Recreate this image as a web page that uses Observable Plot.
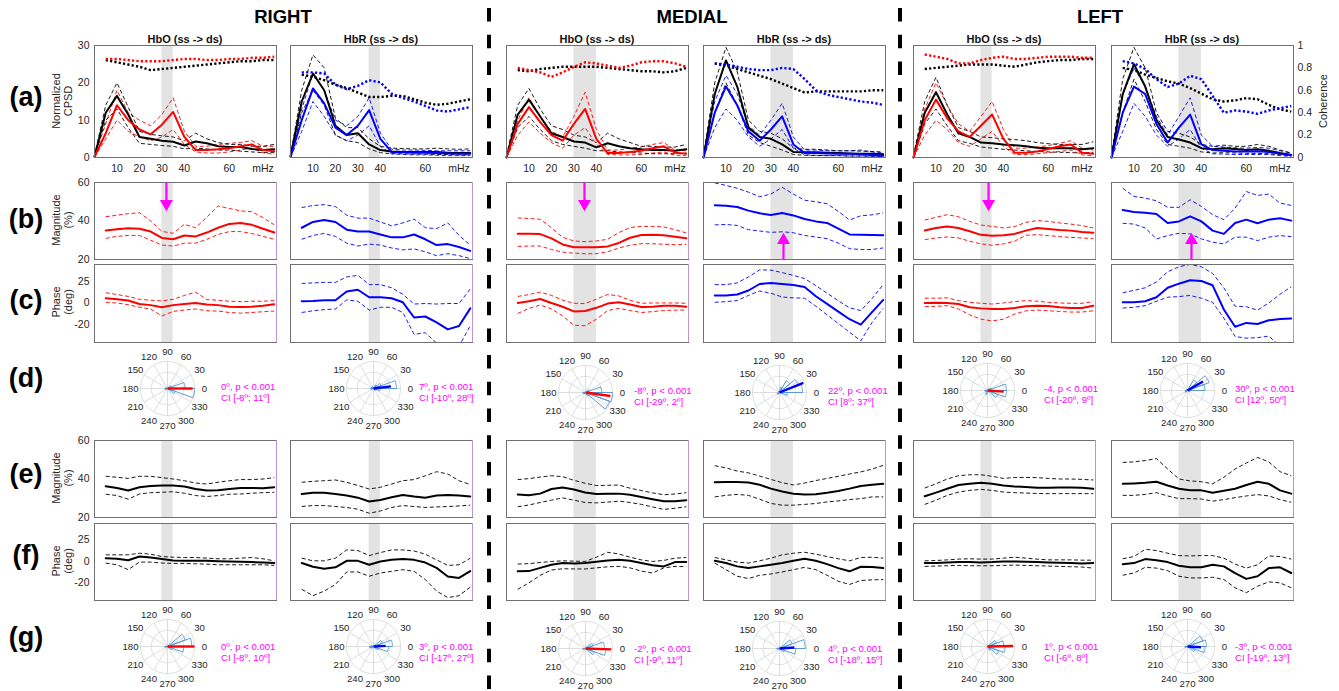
<!DOCTYPE html>
<html><head><meta charset="utf-8">
<script src="https://cdn.jsdelivr.net/npm/d3@7"></script>
<script src="https://cdn.jsdelivr.net/npm/@observablehq/plot@0.6"></script>
<style>
html,body{margin:0;padding:0;background:#fff;}
#root{position:relative;width:1339px;height:691px;overflow:hidden;background:#fff;}
</style></head>
<body><div id="root"></div>
<script>
// ---------------- DATA ----------------
const freqA = [0,5,10,15,20,25,30,35,40,45,50,55,60,65,70,75,80];
const freqB = [5,10,15,20,25,30,35,40,45,50,55,60,65,70,75,80];
const regions = ["RIGHT","MEDIAL","LEFT"];
const chromo = ["HbO","HbR","HbO","HbR","HbO","HbR"];
const rowLabels = ["(a)","(b)","(c)","(d)","(e)","(f)","(g)"];
const bands = [[30,35],[35,40],[30,40],[30,40],[30,35],[30,40]];
const xTicks = [10,20,30,40,60,75];
const xTickLabels = ["10","20","30","40","60","mHz"];
const cpsdTicks = [0,10,20,30];
const magTicks = [20,40,60];
const phaseTicks = [20,0,-20];
const phaseTickLabels = ["25","0","-20"];
const cohTicks = [0,0.2,0.4,0.6,0.8,1];
const cohTickLabels = ["0","0.2","0.4","0.6","0.8","1"];
const polarTicks = [0,30,60,90,120,150,180,210,240,270,300,330];
const polarRings = [0.6,1];

// Row (a): normalized CPSD (coloured = chromophore, K = black), u/l = CI bounds; coherence 0-1
const aC1=[0.2,6.5,14,10,7.5,6.2,8.8,12.2,5.5,2,2,2.2,2.5,3,3.5,2,1.7];
const aCu1=[0.5,9,18,12,10,8.5,11.5,16,7,3,3,3.5,3.8,4,4.5,3,3];
const aCl1=[0,5,10,7,5.5,4.5,5.5,7.5,3.5,1.5,1.2,1.2,1.5,2,2.5,1.3,0.8];
const aK1=[0.3,12,16.5,11.5,5.5,5,4.5,4.2,3.2,4.3,3.8,3,2.8,2.8,2.3,2,2.2];
const aKu1=[0.5,14,20,13.5,7,6.2,5.8,5.5,4.5,6.5,5,4,3.5,3.5,3,3,3.5];
const aKl1=[0,10,13,8,3.8,3.5,3.2,3,2.3,2.5,2.3,2,2,1.7,1.5,1.3,1.3];
const cohC1=[0.88,0.88,0.87,0.86,0.86,0.86,0.87,0.88,0.88,0.87,0.87,0.88,0.88,0.89,0.89,0.9];
const cohK1=[0.87,0.85,0.83,0.81,0.78,0.79,0.8,0.81,0.82,0.83,0.84,0.85,0.86,0.86,0.87,0.87];

const aC2=[0.2,10,18.5,14.5,8,6,8.5,12.7,5,1.5,1.4,1.3,1.3,1.2,1.1,1,1];
const aCu2=[0.5,13,22.5,18,10,8.5,11,16,6.5,2.2,2,2,1.9,1.8,1.8,1.8,1.8];
const aCl2=[0,7,15,11,6,4.5,6,8.5,3,1,0.8,0.7,0.7,0.6,0.5,0.5,0.5];
const aK2=[0.3,15,22.5,18,8.5,6,6.5,3.5,2,1.6,1.5,1.5,1.5,1.5,1.3,1.2,1.2];
const aKu2=[0.5,18,27.5,24,10.5,8,8,5,3,2.5,2.4,2.3,2.3,2.5,2.3,2.2,2.3];
const aKl2=[0,12,18,14,6,4.5,4,2.3,1.3,1,1,0.9,0.9,0.8,0.8,0.7,0.7];
const cohC2=[0.76,0.76,0.75,0.65,0.61,0.64,0.69,0.67,0.57,0.53,0.5,0.46,0.42,0.41,0.43,0.45];
const cohK2=[0.74,0.72,0.69,0.65,0.62,0.58,0.54,0.54,0.55,0.55,0.52,0.49,0.47,0.48,0.5,0.52];

const aC3=[0,9,13.5,9.5,6,4.5,9,13,5,1.2,1.2,1.5,1.8,2.5,3,1.3,1];
const aCu3=[0.5,10,16,11,7,5.5,11,17.5,7.5,2,2,2.5,2.8,3.5,4,2,1.8];
const aCl3=[0,6,9.5,6.5,4,2.5,6,8,3.5,0.8,0.7,0.7,0.8,1.2,1.5,0.6,0.5];
const aK3=[0,11.5,15.5,11,6.5,5.5,4.3,4,2.7,3.8,3,2.5,2.2,2,2,1.8,2.2];
const aKu3=[0.5,14,18.5,13,8.5,7.5,6,5.5,4,6.5,5,4,3,3,2.8,2.8,3.5];
const aKl3=[0,8,11,7.5,4.5,3.5,3,2.5,1.8,1.8,1.5,1.3,1.2,1,1,1,1.2];
const cohC3=[0.8,0.78,0.76,0.72,0.76,0.81,0.85,0.84,0.82,0.8,0.82,0.85,0.86,0.86,0.84,0.81];
const cohK3=[0.78,0.77,0.79,0.8,0.81,0.81,0.81,0.81,0.8,0.79,0.78,0.77,0.77,0.76,0.77,0.8];

const aC4=[0,12,19,14,7,4.5,7.5,11,3.5,1.2,1.2,1.1,1,1,0.9,0.7,0.5];
const aCu4=[0.5,15,22,17,8.5,6,10,14.5,5.5,2,2,1.8,1.8,1.8,2,1.5,1.2];
const aCl4=[0,8,13,10,5.5,3,5,7.5,2.5,0.7,0.6,0.5,0.5,0.4,0.4,0.3,0.3];
const aK4=[0,17,26,19,8,5.5,5,3.5,1.5,1.4,1.4,1.3,1.2,1.1,1,1,0.9];
const aKu4=[0.5,20,29.5,23,10,7,6.5,5,2.5,2.2,2.2,2,1.8,1.8,1.7,1.6,1.5];
const aKl4=[0,12,20,14,6,4,3,2,0.8,0.6,0.5,0.5,0.5,0.4,0.4,0.4,0.4];
const cohC4=[0.84,0.83,0.81,0.79,0.78,0.78,0.8,0.79,0.7,0.6,0.56,0.54,0.52,0.5,0.49,0.47];
const cohK4=[0.84,0.82,0.79,0.76,0.73,0.7,0.66,0.62,0.58,0.59,0.59,0.59,0.59,0.59,0.6,0.6];

const aC5=[0,10,15.5,10.5,7,5.5,8.5,11.5,5,1.3,1.3,1.6,2.3,3,3.5,1.3,1];
const aCu5=[0.5,13,20,14,9,7,11,15,7.5,2.5,2.5,2.8,3.2,3.8,4.5,2.5,2];
const aCl5=[0,6,10,7.5,4,3,5,7,3,0.8,0.8,1,1.3,1.6,2,0.7,0.5];
const aK5=[0,12,17.5,11.5,6.5,5.5,4,3.8,3.5,3.3,3,2.6,2.5,2.5,2.5,2.2,2.5];
const aKu5=[0.5,15,21.5,14,8,7,5.5,5.3,5,4.8,4.5,4,3.7,3.5,3.5,3.5,4.2];
const aKl5=[0,9,13,8.5,4.5,3.8,2.8,2.5,2.2,2,1.8,1.6,1.5,1.4,1.3,1.2,1.4];
const cohC5=[0.92,0.9,0.88,0.84,0.84,0.87,0.89,0.9,0.88,0.88,0.89,0.9,0.9,0.9,0.89,0.89];
const cohK5=[0.79,0.8,0.81,0.82,0.83,0.83,0.83,0.82,0.81,0.83,0.85,0.86,0.87,0.87,0.88,0.88];

const aC6=[0,12,19,17,9,4,8,11.5,3.5,2,1.8,1.6,1.6,1.7,1.5,1,0.7];
const aCu6=[0.5,17,24,19,11,6,11,16,6,3,2.8,2.6,2.5,2.7,2.5,1.8,1.2];
const aCl6=[0,7,14.5,11,6,3,5,7.5,2.5,1,0.9,0.8,0.8,0.8,0.8,0.5,0.3];
const aK6=[0,17,25,19,10,5.5,4.8,4,2.5,2.2,2.5,2.3,2,2.2,1.8,1.2,0.7];
const aKu6=[0.5,21,29.5,24,12,7,6.5,5.5,3.5,3,3.3,3,3,3.5,3,2,1.2];
const aKl6=[0,12,21,15,7.5,3.5,3,2.5,1.5,1.2,1.3,1.2,1.1,1.1,1,0.8,0.4];
const cohC6=[0.86,0.84,0.79,0.7,0.63,0.66,0.73,0.7,0.55,0.4,0.42,0.41,0.39,0.42,0.44,0.46];
const cohK6=[0.8,0.78,0.74,0.71,0.68,0.66,0.62,0.57,0.52,0.5,0.51,0.53,0.52,0.47,0.43,0.41];

// Rows (b)/(c): coloured magnitude (%) and phase (deg) with CI bounds
const b1=[35.1,35.7,36.2,36,34.5,31.2,30.5,32.5,32,34,36.5,38.5,39,38,36,34];
const bu1=[42.2,43,43.8,44.3,40,34.6,33.6,38.3,36.5,42,47.8,46.5,45.3,44.8,41.8,38];
const bl1=[31,32,32.5,32.5,30,27.5,27,28.5,28.5,30.5,33,34.5,34.5,33.5,32,30.5];
const c1=[4.4,3.5,2.2,-1,-2,-4,-2,-1,0,-1.5,-2,-3.4,-3.8,-3.4,-2.5,-1.2];
const cu1=[9.4,7.8,6,3.4,2.5,1.9,3.4,6.9,10,3.1,2.5,1.6,1.2,1.6,1.6,2.2];
const cl1=[0.6,0,-1.6,-4,-5.6,-12,-7.8,-6.5,-5.6,-7.2,-7.5,-8.8,-9.4,-8.8,-8.1,-7.5];

const b2=[36.5,39.5,40.5,39.5,35.5,34.5,34.5,33,31.5,31.5,33,30.5,27.5,28,26.5,24.5];
const bu2=[47,48,48.5,47.5,43,41.5,41.5,39.5,37.5,39,41,36.5,36,39,32.5,27.5];
const bl2=[30.5,32.5,33.5,32,28.5,27,28,27.5,26,25,25.5,24,22,23,22,20.5];
const c2=[1.6,1.9,2.5,2.5,10.6,12.2,5.3,5.3,4.4,0.6,-13.4,-12.5,-18,-24.4,-21.2,-5];
const cu2=[18,18.5,19,19,24,25.5,17,17,14,8,-1,-0.5,-1,-0.5,-0.5,13];
const cl2=[-8.8,-7.2,-6.2,-5.6,2.8,1.6,-6.6,-4,-4,-8.8,-29,-27.5,-37,-40,-40,-21];

const b3=[33.4,33.4,33.2,31,27.8,26.4,26.4,26.4,26.8,28.6,31.3,32.7,32.9,32.6,31.8,31];
const bu3=[41.6,41.3,40.9,36.5,31.5,29.6,29.3,29.6,30.5,34,36.6,37.2,37.2,36.9,35.5,33.8];
const bl3=[26.8,27,27,25.2,23.8,23.3,23,23,24,26,27.4,28.2,28.2,27.9,27.7,27.8];
const c3=[0,1.5,3.7,0,-3.5,-7.8,-7.4,-4.5,-0.6,0.6,-1.5,-3.8,-3.4,-2.5,-2.5,-3.4];
const cu3=[6,7.8,10,7,2.5,-0.3,-0.6,3.5,7.8,6.5,2.5,-0.3,0,0,0,-0.3];
const cl3=[-9.7,-5,-1.9,-5.5,-12,-20.6,-21,-15,-7,-5,-7,-8.8,-8,-7,-6.6,-6.6];

const b4=[48.2,47.9,47.3,45.4,44,43.1,44.2,42.9,41,39.8,39,36,33,32.9,32.7,32.6];
const bu4=[59.8,58.5,57,55,52.6,54,57.5,54,50.8,50,49,45,40.5,42.7,43.2,44.2];
const bl4=[38,38.2,37.7,35.5,34.8,34.1,34.4,33.9,32.5,31.7,30.8,28.5,25.6,25.2,25.2,26];
const c4=[6.9,6.9,7.8,11.5,17.5,18.4,17.5,16.5,14.7,6.2,-0.9,-8,-15,-20,-8.5,2.8];
const cu4=[16.9,16.9,18.5,24,30.6,30.3,28,25.5,22.5,16,9,2,-4.5,-7,4,17];
const cl4=[0.6,1.2,2.2,7,11,9,5.5,4.7,4.4,-3,-11,-19,-27,-35,-18,-5];

const b5=[35.1,36.4,37.2,36.4,34.7,32.8,32.4,32.6,33.3,35,36.4,35.9,35.3,35,34.3,33.9];
const bu5=[40.5,41.9,43.3,42.2,39.8,37.9,37.2,36.4,37.1,39.3,40.2,39.8,39,38.4,37.6,36.4];
const bl5=[30.3,31.2,31.7,31.2,29.5,28.1,27.4,28.1,29.5,32.6,32.9,32.4,31.9,31.5,31.2,30.8];
const c5=[0,0.3,0,-1,-4,-5,-5.6,-5.6,-4.7,-3.1,-2.5,-2.8,-4,-4.7,-4.7,-2.5];
const cu5=[4.4,4.4,4.7,2.2,0.6,-0.3,-1,0,1.2,2.2,1.6,0.6,0,-0.3,-0.3,1.2];
const cl5=[-3.4,-3.1,-2.5,-5.6,-10.9,-15,-16.6,-15,-10.3,-7.2,-6.6,-7.2,-7.8,-8.4,-8.4,-7.2];

const b6=[45.7,44.7,44.3,43.6,39,39.8,42.4,39.8,35,33.3,39,40.7,38.8,40.7,41.4,40.2];
const bu6=[57,52.8,51.9,50.5,47.1,47.1,51,47.6,43.3,40.7,46.7,55.3,53.3,54,49.3,48.1];
const bl6=[38.8,38.4,36.4,30.7,32.4,33.6,33.3,30.7,29,28.1,31.6,31.6,29.8,31.6,32.4,31.9];
const c6=[0.6,0.6,1.6,5.3,14,17.8,21,20.3,16.3,-6,-22,-18.4,-19.4,-16,-14.7,-14.4];
const cu6=[9.4,11.6,14,19.4,28.8,33.4,35.6,33.4,27.2,14,-3,-3.5,-6.6,0,8,15];
const cl6=[-4.7,-4,-2.5,1.6,5.3,5.9,6.9,4.4,0.6,-14,-31,-32.5,-32,-30.6,-40,-40];

// Rows (e)/(f): black magnitude (%) and phase (deg) with CI bounds
const e1=[36.2,35.3,34,35.7,36.4,36.6,36.6,36.1,34.8,34,34.1,34.8,35.3,35.3,35.2,35.7];
const eu1=[41.4,40.9,40.3,41.4,41.4,40.7,40,39.1,37.9,37.4,38.3,39.1,39.7,39.7,40,40.7];
const el1=[32.1,31.4,29.5,32.2,32.9,33.1,33.4,32.6,31.4,30.9,31.4,32.1,32.2,32.6,32.9,33.1];
const f1=[3.1,2.5,1.2,4.6,3.7,2.2,0.9,0.6,0.6,0.6,0.3,0,-0.3,-0.6,-0.9,-1.5];
const fu1=[6.2,6.2,6.2,7.7,6.8,4.6,4,3.7,3.7,3.1,2.5,2.5,3.1,3.7,2.5,0.6];
const fl1=[-1.5,-3.1,-7.7,-0.6,-0.6,-1.5,-1.8,-1.8,-2.2,-2.5,-3.1,-3.1,-3.1,-3.1,-3.1,-3.7];

const e2=[32.2,32.9,32.9,32.2,31.4,30.3,28.3,29.1,30.5,31.7,30.9,30.3,31.4,31.7,31.4,30.9];
const eu2=[38.3,38.8,39.1,39.5,38.3,36.6,34.8,35.7,37.4,39.1,39.7,41.7,43.8,42.6,39.1,37.1];
const el2=[25.7,26.2,26.2,25.7,25.2,24.3,22.2,23.4,25.2,26.2,25.7,25.2,25.5,25.7,26,26.4];
const f2=[-1.5,-5,-6.8,-5.5,0.6,0.6,-3.1,0,1.5,2.2,1.5,-1,-6,-14,-15.4,-9];
const fu2=[3.1,0.6,0.6,3.1,10.8,10.2,5.5,8.3,10.8,10.8,9.8,6.8,1.5,-3.7,-3.1,3];
const fl2=[-26,-32,-27.7,-21.5,-9.8,-9.8,-13.8,-10.8,-9.2,-7.7,-9.2,-16.9,-27.7,-33.8,-32,-24];

const e3=[31.9,31.5,32.4,34.8,35.6,34.5,33,32.2,32.3,32.4,31.8,30.7,29.5,28.4,28.5,29];
const eu3=[39.7,40.2,41,41.7,41.2,39.3,37.8,36.6,36.7,36.9,35.2,34,32.8,31.8,32.2,32.9];
const el3=[25.6,26.5,27.8,29,30.2,29,27.8,27.6,28,28.5,27.8,26.8,25.5,24.2,24.8,25.6];
const f3=[-9.2,-9,-6,-3,-1.5,-1.8,-1.5,-0.3,0.8,1.5,0.6,-1.5,-3.5,-4.6,-0.6,-0.6];
const fu3=[-2.5,-2,-1,0,0.6,0.3,0,4,8.6,7,4,1.5,0,1,3.1,3.7];
const fl3=[-26,-20,-13,-8,-6.8,-7,-7,-6,-5,-4.6,-6,-9,-10.8,-6,-4.6,-4.9];

const e4=[38.3,38.5,38.5,38.2,37,35,33.5,32.3,31.9,32.1,32.8,33.8,35,36.4,37,37.5];
const eu4=[46.9,45.8,44.1,43.2,41.5,39.8,38.1,36.9,37.9,39.2,40.3,41.4,42.6,43.7,45.1,47.1];
const el4=[30.7,31.5,32,31.5,29.5,27.3,26.4,26.4,26.8,27.3,28.1,28.6,29.3,29.8,30.7,30.7];
const f4=[0.6,-1.5,-4.6,-6.2,-4.6,-3.1,-1.5,0.6,2.5,0.6,-2.5,-6.2,-9.2,-4.9,-5.2,-6.2];
const fu4=[3.7,1.5,-0.6,-1.5,0.6,3.1,6.2,7.7,8.6,6.8,4.6,2.5,0.6,3.7,4,3.1];
const fl4=[-1.5,-7.7,-13.8,-16,-12.9,-11.7,-9.8,-7.7,-5.5,-7.7,-12.9,-18.5,-21.5,-17.8,-17.2,-16.9];

const e5=[31,32.9,34.9,36.9,37.5,38,37.5,36.6,36.1,35.8,35.4,35.4,35.6,35.6,35.4,34.9];
const eu5=[35.3,37.5,40,41.7,42.2,42.2,41.4,40.3,40.8,40.8,40.7,40.3,40,40,39.8,39.5];
const el5=[26.8,29,31.5,33.2,34.1,34.6,34.1,33.2,32.9,32.7,32.5,32.4,32.4,32.4,32.4,32.4];
const f5=[-1.5,-1.5,-0.9,-0.6,-0.6,-0.9,-0.6,0,0,-0.3,-0.6,-0.9,-1.2,-1.5,-1.8,-1.5];
const fu5=[0.6,0.9,1.5,2.2,2.5,2.2,2.2,3.1,4,3.1,2.2,1.5,1.5,1.5,1.2,1.2];
const fl5=[-4.6,-4.3,-4,-3.7,-4,-4,-4,-3.7,-3.4,-3.7,-4,-4.3,-4.6,-4.9,-5.2,-6.2];

const e6=[37.5,37.7,38,38.6,36.6,34.9,34.1,34.1,32.9,33.9,34.9,36.9,38.6,37.5,34.1,32.4];
const eu6=[48.6,48.9,49.6,50.6,45.2,40,39,38.6,37.5,40.9,45.2,48.3,51.2,48.9,43.8,41.7];
const el6=[31.5,31.5,32,32.9,31.2,29.8,29.8,29.6,28.5,29.3,30.3,31.2,31.9,31.2,29.3,27.9];
const f6=[-2.5,-1.5,2.2,1.2,-0.6,-4,-5.5,-5.5,-3.1,-4.6,-10.8,-16.3,-13.8,-6.2,-5.5,-10.8];
const fu6=[2.5,4.6,11.4,10.2,7.7,5.5,5.2,5.5,5.5,3.1,-2.5,-6.2,-3.1,5.2,4.6,2.2];
const fl6=[-12.9,-10.8,-5.5,-6.2,-8.6,-13.8,-15.4,-15.4,-14.8,-16.9,-24.6,-29.2,-23.1,-19.1,-20,-24.6];

// Rose histograms: relative radius of 20-degree bins starting at 0 deg
const roseBinWidth = 20;
const roseD1=[0.65,0.15,0,0,0,0,0,0,0.08,0.1,0.05,0,0,0,0,0,0.3,1];
const roseD2=[0.85,0.3,0.15,0,0,0,0.08,0,0.1,0.1,0,0,0,0,0,0,0.1,0.25];
const roseD3=[0.6,0.15,0,0,0,0,0,0,0,0.1,0.08,0,0,0,0,0.15,0.95,1];
const roseD4=[0.85,0.75,0.5,0.2,0,0,0.05,0,0,0,0.1,0.05,0,0,0,0,0,0.3];
const roseD5=[0.7,0.15,0,0,0,0,0,0,0.05,0.1,0,0,0.15,0,0,0,0.4,0.7];
const roseD6=[0.65,0.85,0.45,0,0,0,0.05,0,0,0.08,0.1,0,0,0,0,0,0,0.1];
const roseG1=[0.9,0.7,0,0,0,0,0,0,0,0.1,0,0,0,0,0,0,0.2,0.6];
const roseG2=[0.7,0.35,0,0,0,0,0,0,0.1,0.15,0.1,0,0,0,0,0,0.2,0.55];
const roseG3=[0.7,0.3,0,0,0,0,0,0,0,0.1,0,0,0,0,0,0,0.35,0.75];
const roseG4=[0.95,0.5,0,0,0,0,0,0,0,0.1,0,0,0,0,0,0,0.2,0.6];
const roseG5=[0.6,0.35,0,0,0,0,0,0,0,0,0,0,0,0,0,0.15,0.45,0.65];
const roseG6=[0.7,0.6,0,0,0,0,0,0,0,0.1,0,0,0,0,0,0,0.3,0.65];
// Mean phase (deg) and resultant length
const meanD=[[0,0.93],[7,0.65],[-8,0.93],[22,0.95],[-4,0.6],[30,0.66]];
const meanG=[[0,1.0],[3,0.45],[-2,0.95],[4,0.55],[1,0.95],[-3,0.5]];
const statsD1=["0º, p < 0.001","7º, p < 0.001","-8º, p < 0.001","22º, p < 0.001","-4, p < 0.001","30º, p < 0.001"];
const statsD2=["CI [-8º; 11º]","CI [-10º, 28º]","CI [-29º, 2º]","CI [8º; 37º]","CI [-20º, 9º]","CI [12º, 50º]"];
const statsG1=["0º, p < 0.001","3º, p < 0.001","-2º, p < 0.001","4º, p < 0.001","1º, p < 0.001","-3º, p < 0.001"];
const statsG2=["CI [-8º, 10º]","CI [-17º, 27º]","CI [-9º, 11º]","CI [-18º, 15º]","CI [-6º, 8º]","CI [-19º, 13º]"];

// Magenta arrows on row (b)
const arrowCols=[0,2,4,3,5];
const arrowFreq=[32,34.7,33.4,35.6,35.6];
const arrowDir=["down","down","down","up","up"];

// ---------------- LAYOUT / STYLE ----------------
const root = document.getElementById("root");
const FONT = '"Liberation Sans", Arial, Helvetica, sans-serif';
const INK = "#262626";
const RED = "#ff0000", BLUE = "#0000ff", MAG = "#ff00ff";
const colLeft = [94,290,506,703,913,1111];
const PW = 182;
const rowA={top:45,h:112}, rowB={top:182,h:77}, rowC={top:264,h:78}, rowE={top:440,h:77}, rowF={top:523,h:77};
const phaseDomain=[-36.5,35.5];

function place(el, left, top){ el.style.position="absolute"; el.style.left=left+"px"; el.style.top=top+"px"; root.appendChild(el); }
function label(str, x, y, o={}){
  const {size=11, weight="normal", color=INK, rotate=0, anchor="middle"} = o;
  const d=document.createElement("div");
  d.textContent=str;
  d.style.cssText=`position:absolute;left:${x}px;top:${y}px;font-family:${FONT};font-size:${size}px;font-weight:${weight};color:${color};white-space:nowrap;line-height:1;transform:translate(${anchor==="start"?"0":"-50%"},-50%) rotate(${rotate}deg);`;
  root.appendChild(d);
}
const pts = (xs, ys) => xs.map((x,i)=>({x, y: ys[i]}));
const SOLID = {strokeWidth:2};
const DASH = {strokeWidth:0.9, strokeDasharray:"4,2.5", strokeLinecap:"butt"};
const DOT = {strokeWidth:2.4, strokeDasharray:"2.2,2.2", strokeLinecap:"butt"};

function panel(ci, row, yDomain, marks){
  const mL=40,mR=40,mT=6,mB=22;
  const svg = Plot.plot({
    width:PW+mL+mR, height:row.h+mT+mB, marginLeft:mL, marginRight:mR, marginTop:mT, marginBottom:mB,
    x:{domain:[0,81], axis:null, label:null}, y:{domain:yDomain, axis:null, label:null},
    style:{background:"transparent", color:INK, fontFamily:FONT, fontSize:"10.5px", overflow:"visible"},
    marks
  });
  place(svg, colLeft[ci]-mL, row.top-mT);
}
const bandMark = ci => Plot.rect([bands[ci]], {x1:d=>d[0], x2:d=>d[1], fill:"#e3e3e3"});
const frameMark = () => Plot.frame({stroke:"#707070", strokeWidth:1});
const purpleEdge = () => Plot.ruleX([81], {stroke:"#b995cc", strokeWidth:1});

const A = [[aC1,aCu1,aCl1,aK1,aKu1,aKl1,cohC1,cohK1],[aC2,aCu2,aCl2,aK2,aKu2,aKl2,cohC2,cohK2],[aC3,aCu3,aCl3,aK3,aKu3,aKl3,cohC3,cohK3],
           [aC4,aCu4,aCl4,aK4,aKu4,aKl4,cohC4,cohK4],[aC5,aCu5,aCl5,aK5,aKu5,aKl5,cohC5,cohK5],[aC6,aCu6,aCl6,aK6,aKu6,aKl6,cohC6,cohK6]];
const B = [[b1,bu1,bl1],[b2,bu2,bl2],[b3,bu3,bl3],[b4,bu4,bl4],[b5,bu5,bl5],[b6,bu6,bl6]];
const C = [[c1,cu1,cl1],[c2,cu2,cl2],[c3,cu3,cl3],[c4,cu4,cl4],[c5,cu5,cl5],[c6,cu6,cl6]];
const E = [[e1,eu1,el1],[e2,eu2,el2],[e3,eu3,el3],[e4,eu4,el4],[e5,eu5,el5],[e6,eu6,el6]];
const F = [[f1,fu1,fl1],[f2,fu2,fl2],[f3,fu3,fl3],[f4,fu4,fl4],[f5,fu5,fl5],[f6,fu6,fl6]];
const roseD=[roseD1,roseD2,roseD3,roseD4,roseD5,roseD6];
const roseG=[roseG1,roseG2,roseG3,roseG4,roseG5,roseG6];
const polarCxs=[167,373,585,779,987,1187];
const polarDy=[388,388,392,392,390,390];
const polarGy=[646,646,648,648,646,646];
const statX=[221,419,634,828,1044,1235];

const xLab = new Map(xTicks.map((t,i)=>[t,xTickLabels[i]]));
const pLab = new Map(phaseTicks.map((t,i)=>[t,phaseTickLabels[i]]));
const cLab = new Map(cohTicks.map((t,i)=>[t,cohTickLabels[i]]));
const yAxis = (ticks, fmt) => Plot.axisY({ticks, tickSize:0, tickPadding:5, tickFormat:fmt, label:null, fontSize:10.5});

function polarPanel(cx, cy, rose, mean, color){
  const D = 1.85, rad = a => a*Math.PI/180;
  const ringPts = [];
  polarRings.forEach(r => d3.range(0, 361, 4).forEach(a => ringPts.push({r, x:r*Math.cos(rad(a)), y:r*Math.sin(rad(a))})));
  const wedge = [];
  rose.forEach((r,k) => {
    if (!r) return;
    const a0 = k*roseBinWidth, a1 = a0+roseBinWidth;
    wedge.push({k, x:0, y:0});
    d3.range(a0, a1+0.001, 2).forEach(a => wedge.push({k, x:r*Math.cos(rad(a)), y:r*Math.sin(rad(a))}));
    wedge.push({k, x:0, y:0});
  });
  const svg = Plot.plot({
    width:100, height:100, margin:0,
    x:{domain:[-D,D], axis:null, label:null}, y:{domain:[-D,D], axis:null, label:null},
    style:{background:"transparent", color:INK, fontFamily:FONT, overflow:"visible"},
    marks:[
      Plot.line(ringPts, {x:"x", y:"y", z:"r", stroke:"#d4d4d4", strokeWidth:0.8}),
      Plot.link(polarTicks, {x1:()=>0, y1:()=>0, x2:a=>Math.cos(rad(a)), y2:a=>Math.sin(rad(a)), stroke:"#d4d4d4", strokeWidth:0.8}),
      Plot.text(polarTicks, {x:a=>1.37*Math.cos(rad(a)), y:a=>1.37*Math.sin(rad(a)), text:a=>String(a), fontSize:9.6, fill:INK}),
      Plot.line(wedge, {x:"x", y:"y", z:"k", stroke:"#4b94cf", strokeWidth:0.9}),
      Plot.link([mean], {x1:()=>0, y1:()=>0, x2:d=>d[1]*Math.cos(rad(d[0])), y2:d=>d[1]*Math.sin(rad(d[0])), stroke:color, strokeWidth:2.4})
    ]
  });
  place(svg, cx-50, cy-50);
}

for (let ci=0; ci<6; ci++){
  const col = ci%2===0 ? RED : BLUE;
  const [ac,acu,acl,ak,aku,akl,cc,ck] = A[ci];
  // Row (a): CPSD
  panel(ci, rowA, [0,30], [
    bandMark(ci),
    Plot.line(pts(freqA,acu), {x:"x",y:"y",stroke:col,...DASH}),
    Plot.line(pts(freqA,acl), {x:"x",y:"y",stroke:col,...DASH}),
    Plot.line(pts(freqA,aku), {x:"x",y:"y",stroke:"#000",...DASH}),
    Plot.line(pts(freqA,akl), {x:"x",y:"y",stroke:"#000",...DASH}),
    Plot.line(pts(freqA,ak), {x:"x",y:"y",stroke:"#000",...SOLID}),
    Plot.line(pts(freqA,ac), {x:"x",y:"y",stroke:col,...SOLID}),
    frameMark(),
    Plot.axisX({ticks:xTicks, tickSize:0, tickPadding:7, tickFormat:d=>xLab.get(d), label:null, fontSize:10.5}),
    ...(ci===0 ? [yAxis(cpsdTicks, d=>String(d))] : [])
  ]);
  // Row (a) overlay: coherence (0-1)
  {
    const mL=40,mR=40,mT=6,mB=22;
    const svg = Plot.plot({
      width:PW+mL+mR, height:rowA.h+mT+mB, marginLeft:mL, marginRight:mR, marginTop:mT, marginBottom:mB,
      x:{domain:[0,81], axis:null, label:null}, y:{domain:[0,1], axis:null, label:null},
      style:{background:"transparent", color:INK, fontFamily:FONT, fontSize:"10.5px", overflow:"visible"},
      marks:[
        Plot.line(pts(freqB,ck), {x:"x",y:"y",stroke:"#000",...DOT}),
        Plot.line(pts(freqB,cc), {x:"x",y:"y",stroke:col,...DOT}),
        ...(ci===5 ? [Plot.axisY({anchor:"right", ticks:cohTicks, tickSize:0, tickPadding:4, tickFormat:d=>cLab.get(d), label:null, fontSize:10.5})] : [])
      ]
    });
    place(svg, colLeft[ci]-mL, rowA.top-mT);
  }
  // Row (b): magnitude, coloured
  const ai = arrowCols.indexOf(ci);
  const arrowMarks = [];
  if (ai >= 0){
    const down = arrowDir[ai]==="down";
    const ad = [{x:arrowFreq[ai]}];
    arrowMarks.push(Plot.link(ad, {x1:"x", x2:"x", y1:()=>down?60:20, y2:()=>down?49.5:29.5, stroke:MAG, strokeWidth:2.2}));
    arrowMarks.push(Plot.dot(ad, {x:"x", y:()=>down?49:30, symbol:"triangle", r:4.8, fill:MAG, stroke:"none", rotate:down?180:0}));
  }
  const [bv,bu,bl] = B[ci];
  panel(ci, rowB, [20,60], [
    bandMark(ci),
    Plot.line(pts(freqB,bu), {x:"x",y:"y",stroke:col,...DASH, clip:true}),
    Plot.line(pts(freqB,bl), {x:"x",y:"y",stroke:col,...DASH, clip:true}),
    Plot.line(pts(freqB,bv), {x:"x",y:"y",stroke:col,...SOLID, clip:true}),
    frameMark(), purpleEdge(),
    ...arrowMarks,
    ...(ci===0 ? [yAxis(magTicks, d=>String(d))] : [])
  ]);
  // Row (c): phase, coloured
  const [cv,cu,cl] = C[ci];
  panel(ci, rowC, phaseDomain, [
    bandMark(ci),
    Plot.line(pts(freqB,cu), {x:"x",y:"y",stroke:col,...DASH, clip:true}),
    Plot.line(pts(freqB,cl), {x:"x",y:"y",stroke:col,...DASH, clip:true}),
    Plot.line(pts(freqB,cv), {x:"x",y:"y",stroke:col,...SOLID, clip:true}),
    frameMark(), purpleEdge(),
    ...(ci===0 ? [yAxis(phaseTicks, d=>pLab.get(d))] : [])
  ]);
  // Row (e): magnitude, black
  const [ev,eu,el] = E[ci];
  panel(ci, rowE, [20,60], [
    bandMark(ci),
    Plot.line(pts(freqB,eu), {x:"x",y:"y",stroke:"#000",...DASH, clip:true}),
    Plot.line(pts(freqB,el), {x:"x",y:"y",stroke:"#000",...DASH, clip:true}),
    Plot.line(pts(freqB,ev), {x:"x",y:"y",stroke:"#000",...SOLID, clip:true}),
    frameMark(), purpleEdge(),
    ...(ci===0 ? [yAxis(magTicks, d=>String(d))] : [])
  ]);
  // Row (f): phase, black
  const [fv,fu,fl] = F[ci];
  panel(ci, rowF, phaseDomain, [
    bandMark(ci),
    Plot.line(pts(freqB,fu), {x:"x",y:"y",stroke:"#000",...DASH, clip:true}),
    Plot.line(pts(freqB,fl), {x:"x",y:"y",stroke:"#000",...DASH, clip:true}),
    Plot.line(pts(freqB,fv), {x:"x",y:"y",stroke:"#000",...SOLID, clip:true}),
    frameMark(), purpleEdge(),
    ...(ci===0 ? [yAxis(phaseTicks, d=>pLab.get(d))] : [])
  ]);
  // Rows (d) and (g): polar plots
  polarPanel(polarCxs[ci], polarDy[ci], roseD[ci], meanD[ci], col);
  polarPanel(polarCxs[ci], polarGy[ci], roseG[ci], meanG[ci], col);
  label(statsD1[ci], statX[ci], polarDy[ci]-1, {size:9.6, color:MAG, anchor:"start"});
  label(statsD2[ci], statX[ci], polarDy[ci]+10, {size:9.6, color:MAG, anchor:"start"});
  label(statsG1[ci], statX[ci], polarGy[ci]+1, {size:9.6, color:MAG, anchor:"start"});
  label(statsG2[ci], statX[ci], polarGy[ci]+12, {size:9.6, color:MAG, anchor:"start"});
  // panel title
  label(`${chromo[ci]} (ss -> ds)`, colLeft[ci]+PW/2, 39, {size:11, weight:"bold", color:"#111"});
}

// Region titles
label(regions[0], 283, 17, {size:18.5, weight:"bold", color:"#000"});
label(regions[1], 692, 17, {size:18.5, weight:"bold", color:"#000"});
label(regions[2], 1100, 17, {size:18.5, weight:"bold", color:"#000"});
// Row labels
const rowLabelY=[97,219,300,378,474,555,637];
rowLabels.forEach((t,i)=>label(t, 26, rowLabelY[i], {size:27, weight:"bold", color:"#000"}));
// Axis titles
label("Normalized", 56, 101, {rotate:-90}); label("CPSD", 68, 101, {rotate:-90});
label("Magnitude", 56, 220, {rotate:-90}); label("(%)", 68, 220, {rotate:-90});
label("Phase", 56, 302, {rotate:-90}); label("(deg)", 68, 302, {rotate:-90});
label("Magnitude", 56, 478, {rotate:-90}); label("(%)", 68, 478, {rotate:-90});
label("Phase", 56, 561, {rotate:-90}); label("(deg)", 68, 561, {rotate:-90});
label("Coherence", 1323, 101, {rotate:-90});

// Dashed separators between regions
const sep = d3.create("svg").attr("width",1339).attr("height",691).style("position","absolute").style("left","0px").style("top","0px").style("pointer-events","none");
[489,900].forEach(x => sep.append("line").attr("x1",x).attr("x2",x).attr("y1",8).attr("y2",691).attr("stroke","#000").attr("stroke-width",4).attr("stroke-dasharray","13.5,13.2"));
root.appendChild(sep.node());
</script>
</body></html>
